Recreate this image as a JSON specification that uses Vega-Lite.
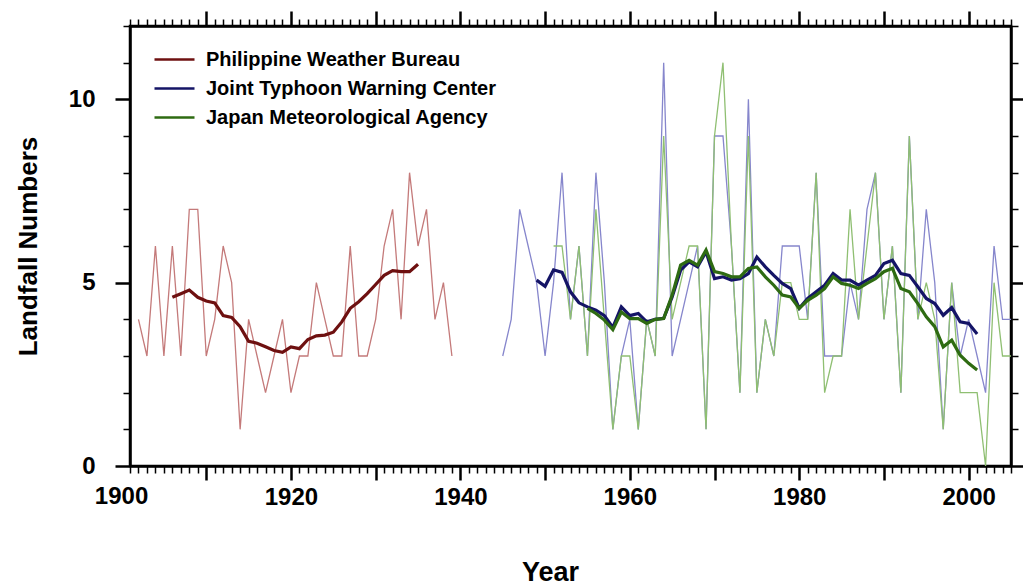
{
  "$schema": "https://vega.github.io/schema/vega-lite/v6.json",
  "width": 881,
  "height": 440,
  "autosize": {"type": "none"},
  "padding": {"left": 130, "top": 26, "right": 12, "bottom": 121},
  "background": "white",
  "config": {
    "view": {"stroke": "black", "strokeWidth": 2.5},
    "font": "Liberation Sans",
    "axis": {"grid": false, "tickColor": "black", "domainColor": "black", "domainWidth": 2.5, "labelColor": "black", "titleColor": "black", "labelFlush": false, "labelOverlap": false, "labelFont": "Liberation Sans", "titleFont": "Liberation Sans"}
  },
  "datasets": {
    "raw": [
      {"yr":1902,"n":4,"src":"Philippine Weather Bureau"},{"yr":1903,"n":3,"src":"Philippine Weather Bureau"},{"yr":1904,"n":6,"src":"Philippine Weather Bureau"},{"yr":1905,"n":3,"src":"Philippine Weather Bureau"},{"yr":1906,"n":6,"src":"Philippine Weather Bureau"},{"yr":1907,"n":3,"src":"Philippine Weather Bureau"},{"yr":1908,"n":7,"src":"Philippine Weather Bureau"},{"yr":1909,"n":7,"src":"Philippine Weather Bureau"},{"yr":1910,"n":3,"src":"Philippine Weather Bureau"},{"yr":1911,"n":4,"src":"Philippine Weather Bureau"},{"yr":1912,"n":6,"src":"Philippine Weather Bureau"},{"yr":1913,"n":5,"src":"Philippine Weather Bureau"},{"yr":1914,"n":1,"src":"Philippine Weather Bureau"},{"yr":1915,"n":4,"src":"Philippine Weather Bureau"},{"yr":1916,"n":3,"src":"Philippine Weather Bureau"},{"yr":1917,"n":2,"src":"Philippine Weather Bureau"},{"yr":1918,"n":3,"src":"Philippine Weather Bureau"},{"yr":1919,"n":4,"src":"Philippine Weather Bureau"},{"yr":1920,"n":2,"src":"Philippine Weather Bureau"},{"yr":1921,"n":3,"src":"Philippine Weather Bureau"},{"yr":1922,"n":3,"src":"Philippine Weather Bureau"},{"yr":1923,"n":5,"src":"Philippine Weather Bureau"},{"yr":1924,"n":4,"src":"Philippine Weather Bureau"},{"yr":1925,"n":3,"src":"Philippine Weather Bureau"},{"yr":1926,"n":3,"src":"Philippine Weather Bureau"},{"yr":1927,"n":6,"src":"Philippine Weather Bureau"},{"yr":1928,"n":3,"src":"Philippine Weather Bureau"},{"yr":1929,"n":3,"src":"Philippine Weather Bureau"},{"yr":1930,"n":4,"src":"Philippine Weather Bureau"},{"yr":1931,"n":6,"src":"Philippine Weather Bureau"},{"yr":1932,"n":7,"src":"Philippine Weather Bureau"},{"yr":1933,"n":4,"src":"Philippine Weather Bureau"},{"yr":1934,"n":8,"src":"Philippine Weather Bureau"},{"yr":1935,"n":6,"src":"Philippine Weather Bureau"},{"yr":1936,"n":7,"src":"Philippine Weather Bureau"},{"yr":1937,"n":4,"src":"Philippine Weather Bureau"},{"yr":1938,"n":5,"src":"Philippine Weather Bureau"},{"yr":1939,"n":3,"src":"Philippine Weather Bureau"},
      {"yr":1945,"n":3,"src":"Joint Typhoon Warning Center"},{"yr":1946,"n":4,"src":"Joint Typhoon Warning Center"},{"yr":1947,"n":7,"src":"Joint Typhoon Warning Center"},{"yr":1948,"n":6,"src":"Joint Typhoon Warning Center"},{"yr":1949,"n":5,"src":"Joint Typhoon Warning Center"},{"yr":1950,"n":3,"src":"Joint Typhoon Warning Center"},{"yr":1951,"n":5,"src":"Joint Typhoon Warning Center"},{"yr":1952,"n":8,"src":"Joint Typhoon Warning Center"},{"yr":1953,"n":4,"src":"Joint Typhoon Warning Center"},{"yr":1954,"n":6,"src":"Joint Typhoon Warning Center"},{"yr":1955,"n":3,"src":"Joint Typhoon Warning Center"},{"yr":1956,"n":8,"src":"Joint Typhoon Warning Center"},{"yr":1957,"n":5,"src":"Joint Typhoon Warning Center"},{"yr":1958,"n":1,"src":"Joint Typhoon Warning Center"},{"yr":1959,"n":3,"src":"Joint Typhoon Warning Center"},{"yr":1960,"n":4,"src":"Joint Typhoon Warning Center"},{"yr":1961,"n":1,"src":"Joint Typhoon Warning Center"},{"yr":1962,"n":4,"src":"Joint Typhoon Warning Center"},{"yr":1963,"n":3,"src":"Joint Typhoon Warning Center"},{"yr":1964,"n":11,"src":"Joint Typhoon Warning Center"},{"yr":1965,"n":3,"src":"Joint Typhoon Warning Center"},{"yr":1966,"n":4,"src":"Joint Typhoon Warning Center"},{"yr":1967,"n":5,"src":"Joint Typhoon Warning Center"},{"yr":1968,"n":6,"src":"Joint Typhoon Warning Center"},{"yr":1969,"n":1,"src":"Joint Typhoon Warning Center"},{"yr":1970,"n":9,"src":"Joint Typhoon Warning Center"},{"yr":1971,"n":9,"src":"Joint Typhoon Warning Center"},{"yr":1972,"n":6,"src":"Joint Typhoon Warning Center"},{"yr":1973,"n":2,"src":"Joint Typhoon Warning Center"},{"yr":1974,"n":10,"src":"Joint Typhoon Warning Center"},{"yr":1975,"n":2,"src":"Joint Typhoon Warning Center"},{"yr":1976,"n":4,"src":"Joint Typhoon Warning Center"},{"yr":1977,"n":3,"src":"Joint Typhoon Warning Center"},{"yr":1978,"n":6,"src":"Joint Typhoon Warning Center"},{"yr":1979,"n":6,"src":"Joint Typhoon Warning Center"},{"yr":1980,"n":6,"src":"Joint Typhoon Warning Center"},{"yr":1981,"n":4,"src":"Joint Typhoon Warning Center"},{"yr":1982,"n":8,"src":"Joint Typhoon Warning Center"},{"yr":1983,"n":3,"src":"Joint Typhoon Warning Center"},{"yr":1984,"n":3,"src":"Joint Typhoon Warning Center"},{"yr":1985,"n":3,"src":"Joint Typhoon Warning Center"},{"yr":1986,"n":5,"src":"Joint Typhoon Warning Center"},{"yr":1987,"n":4,"src":"Joint Typhoon Warning Center"},{"yr":1988,"n":7,"src":"Joint Typhoon Warning Center"},{"yr":1989,"n":8,"src":"Joint Typhoon Warning Center"},{"yr":1990,"n":4,"src":"Joint Typhoon Warning Center"},{"yr":1991,"n":6,"src":"Joint Typhoon Warning Center"},{"yr":1992,"n":2,"src":"Joint Typhoon Warning Center"},{"yr":1993,"n":9,"src":"Joint Typhoon Warning Center"},{"yr":1994,"n":4,"src":"Joint Typhoon Warning Center"},{"yr":1995,"n":7,"src":"Joint Typhoon Warning Center"},{"yr":1996,"n":5,"src":"Joint Typhoon Warning Center"},{"yr":1997,"n":1,"src":"Joint Typhoon Warning Center"},{"yr":1998,"n":5,"src":"Joint Typhoon Warning Center"},{"yr":1999,"n":3,"src":"Joint Typhoon Warning Center"},{"yr":2000,"n":4,"src":"Joint Typhoon Warning Center"},{"yr":2001,"n":3,"src":"Joint Typhoon Warning Center"},{"yr":2002,"n":2,"src":"Joint Typhoon Warning Center"},{"yr":2003,"n":6,"src":"Joint Typhoon Warning Center"},{"yr":2004,"n":4,"src":"Joint Typhoon Warning Center"},{"yr":2005,"n":4,"src":"Joint Typhoon Warning Center"},
      {"yr":1951,"n":6,"src":"Japan Meteorological Agency"},{"yr":1952,"n":6,"src":"Japan Meteorological Agency"},{"yr":1953,"n":4,"src":"Japan Meteorological Agency"},{"yr":1954,"n":6,"src":"Japan Meteorological Agency"},{"yr":1955,"n":3,"src":"Japan Meteorological Agency"},{"yr":1956,"n":7,"src":"Japan Meteorological Agency"},{"yr":1957,"n":4,"src":"Japan Meteorological Agency"},{"yr":1958,"n":1,"src":"Japan Meteorological Agency"},{"yr":1959,"n":3,"src":"Japan Meteorological Agency"},{"yr":1960,"n":3,"src":"Japan Meteorological Agency"},{"yr":1961,"n":1,"src":"Japan Meteorological Agency"},{"yr":1962,"n":4,"src":"Japan Meteorological Agency"},{"yr":1963,"n":3,"src":"Japan Meteorological Agency"},{"yr":1964,"n":9,"src":"Japan Meteorological Agency"},{"yr":1965,"n":4,"src":"Japan Meteorological Agency"},{"yr":1966,"n":5,"src":"Japan Meteorological Agency"},{"yr":1967,"n":6,"src":"Japan Meteorological Agency"},{"yr":1968,"n":6,"src":"Japan Meteorological Agency"},{"yr":1969,"n":1,"src":"Japan Meteorological Agency"},{"yr":1970,"n":9,"src":"Japan Meteorological Agency"},{"yr":1971,"n":11,"src":"Japan Meteorological Agency"},{"yr":1972,"n":6,"src":"Japan Meteorological Agency"},{"yr":1973,"n":2,"src":"Japan Meteorological Agency"},{"yr":1974,"n":9,"src":"Japan Meteorological Agency"},{"yr":1975,"n":2,"src":"Japan Meteorological Agency"},{"yr":1976,"n":4,"src":"Japan Meteorological Agency"},{"yr":1977,"n":3,"src":"Japan Meteorological Agency"},{"yr":1978,"n":5,"src":"Japan Meteorological Agency"},{"yr":1979,"n":5,"src":"Japan Meteorological Agency"},{"yr":1980,"n":4,"src":"Japan Meteorological Agency"},{"yr":1981,"n":4,"src":"Japan Meteorological Agency"},{"yr":1982,"n":8,"src":"Japan Meteorological Agency"},{"yr":1983,"n":2,"src":"Japan Meteorological Agency"},{"yr":1984,"n":3,"src":"Japan Meteorological Agency"},{"yr":1985,"n":3,"src":"Japan Meteorological Agency"},{"yr":1986,"n":7,"src":"Japan Meteorological Agency"},{"yr":1987,"n":4,"src":"Japan Meteorological Agency"},{"yr":1988,"n":6,"src":"Japan Meteorological Agency"},{"yr":1989,"n":8,"src":"Japan Meteorological Agency"},{"yr":1990,"n":4,"src":"Japan Meteorological Agency"},{"yr":1991,"n":6,"src":"Japan Meteorological Agency"},{"yr":1992,"n":2,"src":"Japan Meteorological Agency"},{"yr":1993,"n":9,"src":"Japan Meteorological Agency"},{"yr":1994,"n":4,"src":"Japan Meteorological Agency"},{"yr":1995,"n":5,"src":"Japan Meteorological Agency"},{"yr":1996,"n":4,"src":"Japan Meteorological Agency"},{"yr":1997,"n":1,"src":"Japan Meteorological Agency"},{"yr":1998,"n":5,"src":"Japan Meteorological Agency"},{"yr":1999,"n":2,"src":"Japan Meteorological Agency"},{"yr":2000,"n":2,"src":"Japan Meteorological Agency"},{"yr":2001,"n":2,"src":"Japan Meteorological Agency"},{"yr":2002,"n":0,"src":"Japan Meteorological Agency"},{"yr":2003,"n":5,"src":"Japan Meteorological Agency"},{"yr":2004,"n":3,"src":"Japan Meteorological Agency"},{"yr":2005,"n":3,"src":"Japan Meteorological Agency"}
    ],
    "smooth": [
      {"yr":1906,"n":4.6,"src":"Philippine Weather Bureau"},{"yr":1907,"n":4.7,"src":"Philippine Weather Bureau"},{"yr":1908,"n":4.8,"src":"Philippine Weather Bureau"},{"yr":1909,"n":4.6,"src":"Philippine Weather Bureau"},{"yr":1910,"n":4.5,"src":"Philippine Weather Bureau"},{"yr":1911,"n":4.45,"src":"Philippine Weather Bureau"},{"yr":1912,"n":4.1,"src":"Philippine Weather Bureau"},{"yr":1913,"n":4.05,"src":"Philippine Weather Bureau"},{"yr":1914,"n":3.8,"src":"Philippine Weather Bureau"},{"yr":1915,"n":3.4,"src":"Philippine Weather Bureau"},{"yr":1916,"n":3.35,"src":"Philippine Weather Bureau"},{"yr":1917,"n":3.25,"src":"Philippine Weather Bureau"},{"yr":1918,"n":3.15,"src":"Philippine Weather Bureau"},{"yr":1919,"n":3.1,"src":"Philippine Weather Bureau"},{"yr":1920,"n":3.25,"src":"Philippine Weather Bureau"},{"yr":1921,"n":3.2,"src":"Philippine Weather Bureau"},{"yr":1922,"n":3.45,"src":"Philippine Weather Bureau"},{"yr":1923,"n":3.55,"src":"Philippine Weather Bureau"},{"yr":1924,"n":3.57,"src":"Philippine Weather Bureau"},{"yr":1925,"n":3.65,"src":"Philippine Weather Bureau"},{"yr":1926,"n":3.93,"src":"Philippine Weather Bureau"},{"yr":1927,"n":4.3,"src":"Philippine Weather Bureau"},{"yr":1928,"n":4.48,"src":"Philippine Weather Bureau"},{"yr":1929,"n":4.7,"src":"Philippine Weather Bureau"},{"yr":1930,"n":4.95,"src":"Philippine Weather Bureau"},{"yr":1931,"n":5.2,"src":"Philippine Weather Bureau"},{"yr":1932,"n":5.33,"src":"Philippine Weather Bureau"},{"yr":1933,"n":5.3,"src":"Philippine Weather Bureau"},{"yr":1934,"n":5.3,"src":"Philippine Weather Bureau"},{"yr":1935,"n":5.5,"src":"Philippine Weather Bureau"},
      {"yr":1949,"n":5.07,"src":"Joint Typhoon Warning Center"},{"yr":1950,"n":4.9,"src":"Joint Typhoon Warning Center"},{"yr":1951,"n":5.35,"src":"Joint Typhoon Warning Center"},{"yr":1952,"n":5.28,"src":"Joint Typhoon Warning Center"},{"yr":1953,"n":4.75,"src":"Joint Typhoon Warning Center"},{"yr":1954,"n":4.45,"src":"Joint Typhoon Warning Center"},{"yr":1955,"n":4.34,"src":"Joint Typhoon Warning Center"},{"yr":1956,"n":4.25,"src":"Joint Typhoon Warning Center"},{"yr":1957,"n":4.1,"src":"Joint Typhoon Warning Center"},{"yr":1958,"n":3.78,"src":"Joint Typhoon Warning Center"},{"yr":1959,"n":4.34,"src":"Joint Typhoon Warning Center"},{"yr":1960,"n":4.1,"src":"Joint Typhoon Warning Center"},{"yr":1961,"n":4.16,"src":"Joint Typhoon Warning Center"},{"yr":1962,"n":3.93,"src":"Joint Typhoon Warning Center"},{"yr":1963,"n":4.0,"src":"Joint Typhoon Warning Center"},{"yr":1964,"n":4.03,"src":"Joint Typhoon Warning Center"},{"yr":1965,"n":4.61,"src":"Joint Typhoon Warning Center"},{"yr":1966,"n":5.34,"src":"Joint Typhoon Warning Center"},{"yr":1967,"n":5.57,"src":"Joint Typhoon Warning Center"},{"yr":1968,"n":5.43,"src":"Joint Typhoon Warning Center"},{"yr":1969,"n":5.84,"src":"Joint Typhoon Warning Center"},{"yr":1970,"n":5.11,"src":"Joint Typhoon Warning Center"},{"yr":1971,"n":5.16,"src":"Joint Typhoon Warning Center"},{"yr":1972,"n":5.07,"src":"Joint Typhoon Warning Center"},{"yr":1973,"n":5.11,"src":"Joint Typhoon Warning Center"},{"yr":1974,"n":5.25,"src":"Joint Typhoon Warning Center"},{"yr":1975,"n":5.7,"src":"Joint Typhoon Warning Center"},{"yr":1976,"n":5.43,"src":"Joint Typhoon Warning Center"},{"yr":1977,"n":5.2,"src":"Joint Typhoon Warning Center"},{"yr":1978,"n":4.98,"src":"Joint Typhoon Warning Center"},{"yr":1979,"n":4.84,"src":"Joint Typhoon Warning Center"},{"yr":1980,"n":4.3,"src":"Joint Typhoon Warning Center"},{"yr":1981,"n":4.57,"src":"Joint Typhoon Warning Center"},{"yr":1982,"n":4.75,"src":"Joint Typhoon Warning Center"},{"yr":1983,"n":4.93,"src":"Joint Typhoon Warning Center"},{"yr":1984,"n":5.25,"src":"Joint Typhoon Warning Center"},{"yr":1985,"n":5.07,"src":"Joint Typhoon Warning Center"},{"yr":1986,"n":5.07,"src":"Joint Typhoon Warning Center"},{"yr":1987,"n":4.93,"src":"Joint Typhoon Warning Center"},{"yr":1988,"n":5.07,"src":"Joint Typhoon Warning Center"},{"yr":1989,"n":5.2,"src":"Joint Typhoon Warning Center"},{"yr":1990,"n":5.52,"src":"Joint Typhoon Warning Center"},{"yr":1991,"n":5.61,"src":"Joint Typhoon Warning Center"},{"yr":1992,"n":5.25,"src":"Joint Typhoon Warning Center"},{"yr":1993,"n":5.2,"src":"Joint Typhoon Warning Center"},{"yr":1994,"n":4.89,"src":"Joint Typhoon Warning Center"},{"yr":1995,"n":4.57,"src":"Joint Typhoon Warning Center"},{"yr":1996,"n":4.43,"src":"Joint Typhoon Warning Center"},{"yr":1997,"n":4.11,"src":"Joint Typhoon Warning Center"},{"yr":1998,"n":4.32,"src":"Joint Typhoon Warning Center"},{"yr":1999,"n":3.93,"src":"Joint Typhoon Warning Center"},{"yr":2000,"n":3.89,"src":"Joint Typhoon Warning Center"},{"yr":2001,"n":3.6,"src":"Joint Typhoon Warning Center"},
      {"yr":1955,"n":4.3,"src":"Japan Meteorological Agency"},{"yr":1956,"n":4.16,"src":"Japan Meteorological Agency"},{"yr":1957,"n":3.98,"src":"Japan Meteorological Agency"},{"yr":1958,"n":3.72,"src":"Japan Meteorological Agency"},{"yr":1959,"n":4.2,"src":"Japan Meteorological Agency"},{"yr":1960,"n":4.02,"src":"Japan Meteorological Agency"},{"yr":1961,"n":4.02,"src":"Japan Meteorological Agency"},{"yr":1962,"n":3.89,"src":"Japan Meteorological Agency"},{"yr":1963,"n":4.0,"src":"Japan Meteorological Agency"},{"yr":1964,"n":4.02,"src":"Japan Meteorological Agency"},{"yr":1965,"n":4.66,"src":"Japan Meteorological Agency"},{"yr":1966,"n":5.48,"src":"Japan Meteorological Agency"},{"yr":1967,"n":5.61,"src":"Japan Meteorological Agency"},{"yr":1968,"n":5.48,"src":"Japan Meteorological Agency"},{"yr":1969,"n":5.89,"src":"Japan Meteorological Agency"},{"yr":1970,"n":5.3,"src":"Japan Meteorological Agency"},{"yr":1971,"n":5.25,"src":"Japan Meteorological Agency"},{"yr":1972,"n":5.16,"src":"Japan Meteorological Agency"},{"yr":1973,"n":5.16,"src":"Japan Meteorological Agency"},{"yr":1974,"n":5.39,"src":"Japan Meteorological Agency"},{"yr":1975,"n":5.43,"src":"Japan Meteorological Agency"},{"yr":1976,"n":5.16,"src":"Japan Meteorological Agency"},{"yr":1977,"n":4.93,"src":"Japan Meteorological Agency"},{"yr":1978,"n":4.66,"src":"Japan Meteorological Agency"},{"yr":1979,"n":4.61,"src":"Japan Meteorological Agency"},{"yr":1980,"n":4.3,"src":"Japan Meteorological Agency"},{"yr":1981,"n":4.52,"src":"Japan Meteorological Agency"},{"yr":1982,"n":4.66,"src":"Japan Meteorological Agency"},{"yr":1983,"n":4.84,"src":"Japan Meteorological Agency"},{"yr":1984,"n":5.16,"src":"Japan Meteorological Agency"},{"yr":1985,"n":4.98,"src":"Japan Meteorological Agency"},{"yr":1986,"n":4.93,"src":"Japan Meteorological Agency"},{"yr":1987,"n":4.84,"src":"Japan Meteorological Agency"},{"yr":1988,"n":4.98,"src":"Japan Meteorological Agency"},{"yr":1989,"n":5.11,"src":"Japan Meteorological Agency"},{"yr":1990,"n":5.3,"src":"Japan Meteorological Agency"},{"yr":1991,"n":5.39,"src":"Japan Meteorological Agency"},{"yr":1992,"n":4.84,"src":"Japan Meteorological Agency"},{"yr":1993,"n":4.75,"src":"Japan Meteorological Agency"},{"yr":1994,"n":4.43,"src":"Japan Meteorological Agency"},{"yr":1995,"n":4.07,"src":"Japan Meteorological Agency"},{"yr":1996,"n":3.8,"src":"Japan Meteorological Agency"},{"yr":1997,"n":3.25,"src":"Japan Meteorological Agency"},{"yr":1998,"n":3.43,"src":"Japan Meteorological Agency"},{"yr":1999,"n":3.02,"src":"Japan Meteorological Agency"},{"yr":2000,"n":2.8,"src":"Japan Meteorological Agency"},{"yr":2001,"n":2.62,"src":"Japan Meteorological Agency"}
    ],
    "extraLabel": [{"yr": 1900, "n": 0, "lab": "1900"}]
  },
  "layer": [
    {
      "data": {"name": "raw"},
      "mark": {"type": "line", "strokeWidth": 1.3},
      "encoding": {
        "x": {"field": "yr", "type": "quantitative", "scale": {"domain": [1901, 2005], "nice": false, "zero": false},
          "axis": {"orient": "bottom", "values": [1920, 1940, 1960, 1980, 2000], "format": "d", "ticks": false, "tickSize": 0, "labelFontSize": 24, "labelFontWeight": "bold", "labelPadding": 19, "domain": true,
            "title": "Year", "titleFontSize": 27, "titleFontWeight": "bold", "titleX": 420, "titleY": 106, "titleBaseline": "middle", "titleAlign": "center"}},
        "y": {"field": "n", "type": "quantitative", "scale": {"domain": [0, 12], "nice": false},
          "axis": {"orient": "left", "values": [0, 5, 10], "format": "d", "tickSize": 15, "tickWidth": 2.5, "labelFontSize": 24, "labelFontWeight": "bold", "labelPadding": 20, "domain": true,
            "title": "Landfall Numbers", "titleFontSize": 26, "titleFontWeight": "bold", "titleX": -102, "titleY": 220, "titleAngle": -90, "titleBaseline": "middle", "titleAlign": "center"}},
        "color": {"field": "src", "type": "nominal", "scale": {"domain": ["Philippine Weather Bureau", "Joint Typhoon Warning Center", "Japan Meteorological Agency"], "range": ["#c47a7a", "#8686cc", "#8fbf72"]}, "legend": null},
        "order": {"field": "yr"}
      }
    },
    {
      "data": {"name": "smooth"},
      "mark": {"type": "line", "strokeWidth": 3.2},
      "encoding": {
        "x": {"field": "yr", "type": "quantitative", "scale": {"domain": [1901, 2005], "nice": false, "zero": false},
          "axis": {"orient": "bottom", "values": [1910, 1920, 1930, 1940, 1950, 1960, 1970, 1980, 1990, 2000], "labels": false, "tickSize": 14, "tickWidth": 2.5, "domain": false, "title": null}},
        "y": {"field": "n", "type": "quantitative", "scale": {"domain": [0, 12], "nice": false},
          "axis": {"orient": "left", "values": [1, 2, 3, 4, 6, 7, 8, 9, 11, 12], "labels": false, "tickSize": 7, "tickWidth": 1.5, "domain": false, "title": null}},
        "color": {"field": "src", "type": "nominal", "scale": {"domain": ["Philippine Weather Bureau", "Joint Typhoon Warning Center", "Japan Meteorological Agency"], "range": ["#6e1010", "#141466", "#2e6b12"]},
          "legend": {"title": null, "orient": "none", "legendX": 23, "legendY": 19, "direction": "vertical", "symbolType": "stroke", "symbolSize": 1600, "symbolStrokeWidth": 2.5, "labelFontSize": 20, "labelFontWeight": "bold", "labelFont": "Liberation Sans", "labelColor": "black", "labelOffset": 10, "rowPadding": 0, "clipHeight": 29, "padding": 0, "labelLimit": 400}},
        "order": {"field": "yr"}
      }
    },
    {
      "data": {"name": "raw"},
      "mark": {"type": "point", "opacity": 0},
      "encoding": {
        "x": {"field": "yr", "type": "quantitative", "scale": {"domain": [1901, 2005], "nice": false, "zero": false},
          "axis": {"orient": "top", "values": [1910, 1920, 1930, 1940, 1950, 1960, 1970, 1980, 1990, 2000], "labels": false, "tickSize": 15, "tickWidth": 2.5, "domain": true, "title": null}},
        "y": {"field": "n", "type": "quantitative", "scale": {"domain": [0, 12], "nice": false},
          "axis": {"orient": "right", "values": [0, 5, 10], "labels": false, "tickSize": 12, "tickWidth": 2.5, "domain": true, "title": null}}
      }
    },
    {
      "data": {"name": "raw"},
      "mark": {"type": "point", "opacity": 0},
      "encoding": {
        "x": {"field": "yr", "type": "quantitative", "scale": {"domain": [1901, 2005], "nice": false, "zero": false},
          "axis": {"orient": "top", "values": [1901,1902,1903,1904,1905,1906,1907,1908,1909,1911,1912,1913,1914,1915,1916,1917,1918,1919,1921,1922,1923,1924,1925,1926,1927,1928,1929,1931,1932,1933,1934,1935,1936,1937,1938,1939,1941,1942,1943,1944,1945,1946,1947,1948,1949,1951,1952,1953,1954,1955,1956,1957,1958,1959,1961,1962,1963,1964,1965,1966,1967,1968,1969,1971,1972,1973,1974,1975,1976,1977,1978,1979,1981,1982,1983,1984,1985,1986,1987,1988,1989,1991,1992,1993,1994,1995,1996,1997,1998,1999,2001,2002,2003,2004,2005], "labels": false, "tickSize": 7, "tickWidth": 1.5, "domain": false, "title": null}},
        "y": {"field": "n", "type": "quantitative", "scale": {"domain": [0, 12], "nice": false},
          "axis": {"orient": "right", "values": [1, 2, 3, 4, 6, 7, 8, 9, 11, 12], "labels": false, "tickSize": 7, "tickWidth": 1.5, "domain": false, "title": null}}
      }
    },
    {
      "data": {"name": "raw"},
      "mark": {"type": "point", "opacity": 0},
      "encoding": {
        "x": {"field": "yr", "type": "quantitative", "scale": {"domain": [1901, 2005], "nice": false, "zero": false},
          "axis": {"orient": "bottom", "values": [1901,1902,1903,1904,1905,1906,1907,1908,1909,1911,1912,1913,1914,1915,1916,1917,1918,1919,1921,1922,1923,1924,1925,1926,1927,1928,1929,1931,1932,1933,1934,1935,1936,1937,1938,1939,1941,1942,1943,1944,1945,1946,1947,1948,1949,1951,1952,1953,1954,1955,1956,1957,1958,1959,1961,1962,1963,1964,1965,1966,1967,1968,1969,1971,1972,1973,1974,1975,1976,1977,1978,1979,1981,1982,1983,1984,1985,1986,1987,1988,1989,1991,1992,1993,1994,1995,1996,1997,1998,1999,2001,2002,2003,2004,2005], "labels": false, "tickSize": 7, "tickWidth": 1.5, "domain": false, "title": null}},
        "y": {"field": "n", "type": "quantitative", "scale": {"domain": [0, 12], "nice": false}, "axis": null}
      }
    },
    {
      "data": {"name": "extraLabel"},
      "mark": {"type": "text", "font": "Liberation Sans", "fontSize": 24, "fontWeight": "bold", "baseline": "top", "align": "center", "dy": 19, "color": "black", "clip": false},
      "encoding": {
        "x": {"field": "yr", "type": "quantitative", "axis": null},
        "y": {"field": "n", "type": "quantitative", "axis": null},
        "text": {"field": "lab"}
      }
    }
  ],
  "resolve": {"axis": {"x": "independent", "y": "independent"}, "scale": {"color": "independent"}, "legend": {"color": "independent"}}
}
